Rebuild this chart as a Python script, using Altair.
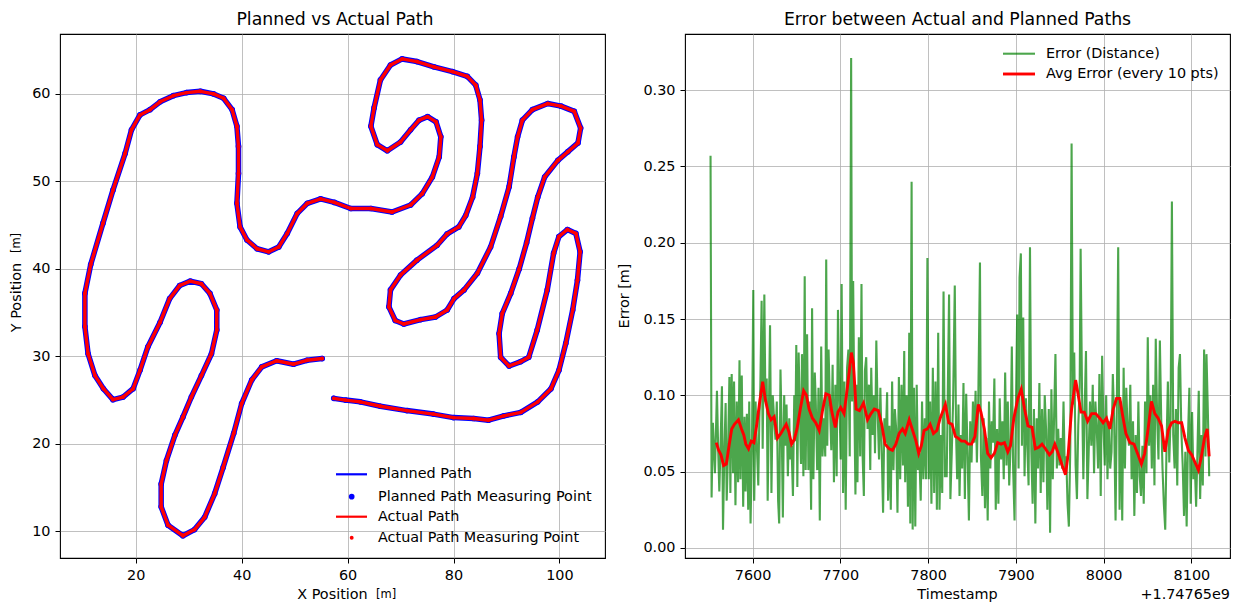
import altair as alt
import pandas as pd

FONT = "DejaVu Sans"

# ---------------- data ----------------
# planned path vertices (x [m], y [m]) in driving order
planned_x = [57.4, 59.6, 62.4, 66.2, 71.2, 76.2, 80.0, 83.8, 86.6, 89.5,
             92.7, 95.9, 98.4, 99.9, 101.2, 102.5, 103.4, 103.9, 103.1, 101.5,
             99.9, 98.9, 97.7, 95.8, 94.2, 92.7, 90.5, 88.9, 88.6, 89.2,
             90.8, 92.4, 93.8, 94.9, 95.9, 97.2, 99.7, 101.6, 103.5, 104.0,
             102.8, 100.3, 97.8, 94.9, 93.0, 92.1, 91.4, 90.5, 88.9, 87.0,
             84.5, 82.0, 80.1, 78.8, 76.6, 73.8, 70.6, 69.0, 67.8, 68.1,
             70.0, 73.1, 76.9, 78.8, 81.0, 82.3, 83.6, 84.5, 85.0, 85.3,
             85.0, 84.2, 82.6, 79.8, 76.3, 73.1, 70.3, 68.1, 66.2, 65.0,
             64.4, 65.6, 67.5, 70.0, 71.9, 73.5, 75.1, 76.7, 77.6, 77.3,
             76.0, 74.1, 71.9, 68.4, 64.4, 60.6, 57.5, 54.9, 52.4, 50.5,
             48.6, 47.0, 45.1, 42.9, 41.0, 39.7, 39.1, 39.4, 39.4, 39.1,
             38.2, 36.6, 34.7, 32.2, 29.6, 27.1, 24.6, 22.7, 20.8, 19.2,
             18.0, 15.7, 13.8, 11.5, 10.4, 10.4, 11.0, 12.3, 13.9, 15.7,
             17.6, 19.5, 20.8, 22.3, 24.6, 26.4, 28.3, 30.3, 32.4, 34.0,
             35.3, 35.3, 34.3, 32.4, 30.5, 28.9, 27.4, 25.8, 24.8, 24.8,
             26.1, 28.9, 31.1, 33.0, 34.9, 36.5, 38.5, 40.0, 41.9, 43.8,
             46.6, 49.8, 52.3, 55.2]
planned_y = [25.2, 25.0, 24.8, 24.3, 23.8, 23.4, 23.0, 22.9, 22.7, 23.2,
             23.6, 24.8, 26.3, 28.4, 31.5, 35.3, 38.7, 41.95, 44.05, 44.5,
             43.7, 41.8, 37.6, 33.0, 29.9, 29.4, 28.9, 29.9, 32.6, 34.9,
             37.2, 40.0, 43.0, 45.8, 48.2, 50.5, 52.4, 53.4, 54.4, 56.1,
             58.0, 58.6, 58.9, 58.2, 57.0, 55.1, 52.8, 49.4, 46.0, 42.5,
             39.5, 37.6, 36.6, 35.3, 34.5, 34.2, 33.7, 34.1, 35.65, 37.6,
             39.3, 41.0, 42.7, 44.0, 44.8, 46.1, 48.2, 50.9, 54.0, 57.0,
             59.3, 61.0, 62.0, 62.55, 63.1, 63.7, 64.0, 63.3, 61.6, 58.4,
             56.3, 54.2, 53.5, 54.5, 55.9, 57.0, 57.4, 56.8, 55.1, 52.8,
             50.5, 48.6, 47.3, 46.5, 46.9, 46.9, 47.6, 48.0, 47.5, 46.35,
             44.05, 42.5, 41.95, 42.3, 43.3, 44.8, 47.5, 50.9, 54.0, 56.3,
             58.2, 59.5, 60.0, 60.3, 60.15, 59.8, 59.1, 58.2, 57.6, 55.9,
             53.2, 49.0, 45.2, 40.5, 37.2, 33.4, 30.3, 27.8, 26.3, 25.05,
             25.35, 26.3, 28.4, 31.1, 33.9, 36.6, 38.1, 38.6, 38.3, 37.2,
             35.3, 33.0, 30.3, 27.8, 25.35, 23.05, 21.0, 18.1, 15.4, 12.8,
             10.7, 9.5, 10.2, 11.6, 14.3, 17.3, 21.2, 24.6, 27.3, 28.8,
             29.5, 29.1, 29.55, 29.75]
# the actual path lies on top of the planned one at this resolution
actual_x = list(planned_x)
actual_y = list(planned_y)

# error (distance) series: (timestamp - 1.74765e9, error [m])
error_points = [
    (7552.1, 0.257), (7553.3, 0.033), (7554.8, 0.082), (7557.1, 0.049), (7559.4, 0.103),
    (7560.9, 0.062), (7562.1, 0.037), (7563.6, 0.069), (7565.1, 0.106), (7566.3, 0.012),
    (7567.8, 0.062), (7569.3, 0.095), (7570.5, 0.031), (7572.0, 0.062), (7573.6, 0.112),
    (7574.7, 0.036), (7576.2, 0.114), (7577.8, 0.049), (7578.9, 0.109), (7580.5, 0.028),
    (7582.0, 0.096), (7583.5, 0.043), (7585.1, 0.123), (7586.2, 0.045), (7587.7, 0.113),
    (7589.3, 0.027), (7590.8, 0.086), (7592.0, 0.037), (7593.5, 0.088), (7595.0, 0.025),
    (7596.2, 0.096), (7597.7, 0.016), (7599.2, 0.062), (7600.8, 0.169), (7601.9, 0.031),
    (7603.4, 0.096), (7605.0, 0.065), (7606.5, 0.041), (7607.7, 0.085), (7608.8, 0.105),
    (7610.3, 0.162), (7611.5, 0.065), (7613.4, 0.166), (7614.6, 0.096), (7616.1, 0.111),
    (7617.2, 0.031), (7618.8, 0.098), (7619.9, 0.146), (7621.5, 0.036), (7623.0, 0.100),
    (7624.5, 0.085), (7626.1, 0.071), (7627.6, 0.096), (7629.1, 0.031), (7630.3, 0.016),
    (7631.8, 0.117), (7633.3, 0.074), (7634.5, 0.020), (7636.0, 0.100), (7637.2, 0.067),
    (7638.7, 0.094), (7640.2, 0.047), (7641.8, 0.085), (7642.9, 0.058), (7644.4, 0.067),
    (7646.0, 0.034), (7647.5, 0.100), (7648.7, 0.070), (7649.8, 0.133), (7651.0, 0.040),
    (7652.5, 0.128), (7653.6, 0.096), (7655.2, 0.055), (7656.3, 0.127), (7657.9, 0.047),
    (7659.4, 0.178), (7660.5, 0.051), (7662.1, 0.140), (7663.6, 0.051), (7665.1, 0.096),
    (7666.7, 0.025), (7667.8, 0.157), (7669.3, 0.045), (7670.9, 0.115), (7672.0, 0.096),
    (7673.6, 0.051), (7675.1, 0.105), (7676.6, 0.018), (7678.2, 0.132), (7679.7, 0.060),
    (7681.2, 0.085), (7682.8, 0.060), (7683.9, 0.189), (7685.1, 0.067), (7686.6, 0.130),
    (7688.1, 0.094), (7689.7, 0.064), (7691.2, 0.120), (7692.7, 0.043), (7694.3, 0.107),
    (7695.8, 0.047), (7697.3, 0.156), (7698.9, 0.096), (7700.4, 0.058), (7701.5, 0.173),
    (7703.1, 0.036), (7704.6, 0.109), (7706.1, 0.025), (7707.7, 0.118), (7709.2, 0.130),
    (7710.7, 0.060), (7712.3, 0.321), (7713.4, 0.096), (7714.6, 0.175), (7715.7, 0.107),
    (7717.2, 0.035), (7718.4, 0.107), (7719.5, 0.043), (7721.1, 0.138), (7722.6, 0.060),
    (7724.1, 0.173), (7725.3, 0.062), (7726.8, 0.034), (7728.0, 0.116), (7729.5, 0.125),
    (7731.0, 0.078), (7732.6, 0.107), (7734.1, 0.051), (7735.2, 0.118), (7736.8, 0.074),
    (7738.3, 0.100), (7739.5, 0.062), (7741.0, 0.136), (7742.5, 0.089), (7744.1, 0.058),
    (7745.6, 0.105), (7747.1, 0.065), (7748.7, 0.023), (7750.2, 0.085), (7751.7, 0.069),
    (7753.3, 0.102), (7754.4, 0.031), (7755.9, 0.080), (7757.5, 0.025), (7759.0, 0.109),
    (7760.5, 0.051), (7762.1, 0.091), (7763.6, 0.078), (7765.1, 0.023), (7766.7, 0.112),
    (7768.2, 0.045), (7769.7, 0.107), (7771.3, 0.054), (7772.8, 0.129), (7773.9, 0.043),
    (7775.5, 0.100), (7777.0, 0.027), (7778.5, 0.141), (7779.7, 0.016), (7781.2, 0.240),
    (7782.4, 0.012), (7783.9, 0.105), (7785.4, 0.014), (7787.0, 0.107), (7788.5, 0.051),
    (7790.0, 0.062), (7791.6, 0.031), (7793.1, 0.096), (7794.6, 0.045), (7796.2, 0.085),
    (7797.7, 0.045), (7799.2, 0.190), (7800.8, 0.045), (7802.3, 0.096), (7803.8, 0.029),
    (7805.4, 0.118), (7806.9, 0.036), (7808.4, 0.109), (7810.0, 0.025), (7811.5, 0.141),
    (7813.0, 0.025), (7814.6, 0.074), (7816.1, 0.036), (7817.6, 0.168), (7819.2, 0.047),
    (7821.2, 0.047), (7823.9, 0.166), (7825.4, 0.032), (7827.0, 0.063), (7828.5, 0.096),
    (7830.4, 0.172), (7831.9, 0.074), (7833.1, 0.045), (7834.6, 0.094), (7835.8, 0.034),
    (7837.3, 0.074), (7838.8, 0.052), (7840.3, 0.108), (7841.9, 0.032), (7843.4, 0.101),
    (7844.9, 0.063), (7846.5, 0.018), (7848.0, 0.083), (7849.5, 0.056), (7851.1, 0.096),
    (7852.6, 0.069), (7854.1, 0.103), (7855.6, 0.056), (7857.2, 0.098), (7859.1, 0.187),
    (7860.2, 0.060), (7861.8, 0.034), (7863.3, 0.085), (7864.8, 0.026), (7866.3, 0.072),
    (7867.9, 0.018), (7869.4, 0.096), (7870.9, 0.052), (7872.5, 0.083), (7874.0, 0.069),
    (7875.5, 0.111), (7877.1, 0.025), (7878.6, 0.078), (7880.1, 0.029), (7881.6, 0.098),
    (7883.2, 0.058), (7884.7, 0.083), (7886.2, 0.045), (7887.8, 0.115), (7889.3, 0.054),
    (7890.8, 0.096), (7892.4, 0.041), (7893.9, 0.065), (7895.4, 0.132), (7896.9, 0.052),
    (7898.5, 0.018), (7900.0, 0.089), (7901.5, 0.153), (7903.1, 0.052), (7904.2, 0.177),
    (7905.7, 0.193), (7906.9, 0.067), (7908.4, 0.151), (7909.9, 0.047), (7911.5, 0.098),
    (7913.0, 0.067), (7914.5, 0.041), (7916.1, 0.197), (7917.6, 0.063), (7919.1, 0.029),
    (7920.6, 0.091), (7922.2, 0.016), (7923.7, 0.085), (7925.2, 0.052), (7926.8, 0.108),
    (7928.3, 0.036), (7929.8, 0.091), (7931.4, 0.043), (7932.9, 0.100), (7934.4, 0.078),
    (7935.9, 0.025), (7937.5, 0.091), (7939.0, 0.010), (7940.5, 0.104), (7942.1, 0.045),
    (7943.6, 0.087), (7945.1, 0.127), (7946.7, 0.052), (7948.2, 0.078), (7949.7, 0.054),
    (7951.2, 0.072), (7952.8, 0.052), (7954.3, 0.096), (7955.8, 0.049), (7957.4, 0.060),
    (7958.9, 0.029), (7960.4, 0.014), (7962.0, 0.065), (7963.5, 0.265), (7965.0, 0.094),
    (7966.5, 0.128), (7968.1, 0.054), (7969.6, 0.032), (7971.1, 0.080), (7972.7, 0.105),
    (7973.8, 0.196), (7975.3, 0.107), (7976.9, 0.045), (7978.4, 0.091), (7979.9, 0.129),
    (7981.5, 0.032), (7983.0, 0.063), (7984.5, 0.096), (7986.0, 0.067), (7987.6, 0.107),
    (7989.1, 0.049), (7990.6, 0.096), (7992.2, 0.078), (7993.7, 0.052), (7995.2, 0.114),
    (7996.7, 0.034), (7998.3, 0.126), (7999.8, 0.080), (8001.3, 0.054), (8002.9, 0.100),
    (8004.4, 0.045), (8005.9, 0.083), (8007.5, 0.052), (8009.0, 0.063), (8010.5, 0.114),
    (8012.0, 0.083), (8013.6, 0.018), (8015.1, 0.096), (8016.6, 0.197), (8018.2, 0.025),
    (8019.7, 0.096), (8021.2, 0.018), (8022.8, 0.118), (8024.3, 0.052), (8025.8, 0.105),
    (8027.3, 0.078), (8028.9, 0.067), (8030.4, 0.107), (8031.9, 0.045), (8033.5, 0.083),
    (8035.0, 0.021), (8036.5, 0.074), (8038.0, 0.036), (8039.6, 0.096), (8041.1, 0.047),
    (8042.6, 0.034), (8044.2, 0.067), (8045.7, 0.029), (8047.2, 0.096), (8048.8, 0.049),
    (8050.3, 0.138), (8051.8, 0.067), (8053.3, 0.100), (8054.9, 0.052), (8056.4, 0.107),
    (8057.9, 0.041), (8059.4, 0.137), (8061.0, 0.085), (8062.5, 0.058), (8064.1, 0.136),
    (8065.6, 0.085), (8067.1, 0.052), (8068.6, 0.029), (8070.2, 0.012), (8071.7, 0.067),
    (8073.2, 0.109), (8074.8, 0.056), (8076.3, 0.085), (8077.8, 0.227), (8079.3, 0.074),
    (8080.9, 0.052), (8082.4, 0.091), (8083.9, 0.041), (8085.5, 0.118), (8087.0, 0.127),
    (8088.5, 0.078), (8090.1, 0.054), (8091.6, 0.021), (8093.1, 0.063), (8094.6, 0.014),
    (8096.2, 0.074), (8097.7, 0.105), (8099.2, 0.029), (8100.8, 0.089), (8102.3, 0.045),
    (8103.8, 0.056), (8105.4, 0.027), (8106.9, 0.063), (8108.4, 0.103), (8110.0, 0.032),
    (8111.5, 0.074), (8113.0, 0.041), (8114.5, 0.130), (8116.1, 0.060), (8117.2, 0.127),
    (8118.7, 0.091), (8120.3, 0.047),
]

# average error (every 10 pts)
avg_points = [
    (7558.6, 0.069), (7561.3, 0.064), (7564.0, 0.061), (7567.0, 0.054), (7570.1, 0.055),
    (7573.2, 0.067), (7576.2, 0.078), (7579.3, 0.081), (7583.9, 0.084), (7587.4, 0.078),
    (7590.0, 0.074), (7592.3, 0.068), (7595.4, 0.065), (7598.5, 0.070), (7601.5, 0.069),
    (7604.6, 0.080), (7607.7, 0.094), (7611.5, 0.109), (7614.6, 0.097), (7618.0, 0.088),
    (7621.1, 0.084), (7624.5, 0.086), (7628.4, 0.072), (7632.2, 0.075), (7635.2, 0.078),
    (7638.3, 0.081), (7641.4, 0.076), (7644.4, 0.068), (7647.5, 0.071), (7650.6, 0.078),
    (7654.4, 0.091), (7658.2, 0.103), (7661.3, 0.100), (7664.4, 0.091), (7668.2, 0.085),
    (7672.0, 0.082), (7675.9, 0.077), (7679.7, 0.090), (7683.5, 0.101), (7687.4, 0.100),
    (7690.4, 0.089), (7694.3, 0.079), (7697.3, 0.089), (7700.4, 0.092), (7704.2, 0.088),
    (7708.0, 0.105), (7712.6, 0.128), (7714.9, 0.121), (7718.0, 0.091), (7721.8, 0.090),
    (7726.4, 0.095), (7731.0, 0.084), (7734.9, 0.088), (7738.7, 0.091), (7743.3, 0.090),
    (7747.1, 0.081), (7751.0, 0.068), (7755.6, 0.065), (7759.4, 0.064), (7763.2, 0.068),
    (7767.0, 0.075), (7770.9, 0.078), (7773.9, 0.075), (7778.5, 0.084), (7782.4, 0.077),
    (7786.2, 0.070), (7789.3, 0.062), (7792.3, 0.067), (7795.4, 0.077), (7799.2, 0.078),
    (7802.3, 0.081), (7806.1, 0.075), (7810.0, 0.077), (7813.8, 0.085), (7819.7, 0.094),
    (7823.5, 0.082), (7827.3, 0.081), (7831.2, 0.073), (7834.2, 0.072), (7838.0, 0.070),
    (7841.9, 0.070), (7845.7, 0.068), (7849.5, 0.068), (7853.3, 0.073), (7857.2, 0.094),
    (7860.2, 0.089), (7864.1, 0.078), (7867.9, 0.062), (7871.7, 0.059), (7875.5, 0.062),
    (7879.3, 0.069), (7883.2, 0.068), (7887.0, 0.069), (7890.8, 0.063), (7893.9, 0.067),
    (7897.7, 0.085), (7902.3, 0.098), (7906.1, 0.104), (7909.9, 0.091), (7913.8, 0.080),
    (7918.4, 0.079), (7922.2, 0.065), (7926.0, 0.066), (7929.8, 0.068), (7933.7, 0.065),
    (7938.2, 0.061), (7941.3, 0.063), (7944.4, 0.068), (7948.2, 0.062), (7952.8, 0.054),
    (7956.6, 0.048), (7959.7, 0.062), (7963.5, 0.091), (7968.1, 0.110), (7971.1, 0.100),
    (7974.2, 0.089), (7978.0, 0.089), (7981.8, 0.083), (7986.4, 0.088), (7991.0, 0.088),
    (7995.6, 0.085), (7999.4, 0.082), (8003.3, 0.085), (8007.1, 0.078), (8010.9, 0.091),
    (8014.7, 0.098), (8018.5, 0.098), (8021.6, 0.087), (8025.4, 0.075), (8030.0, 0.069),
    (8034.6, 0.068), (8039.2, 0.061), (8043.0, 0.055), (8046.8, 0.062), (8050.7, 0.078),
    (8054.5, 0.096), (8058.3, 0.088), (8062.1, 0.085), (8066.0, 0.080), (8069.8, 0.063),
    (8073.6, 0.077), (8077.4, 0.082), (8081.3, 0.083), (8085.1, 0.082), (8088.9, 0.082),
    (8092.7, 0.072), (8096.6, 0.064), (8100.4, 0.061), (8104.2, 0.056), (8108.0, 0.051),
    (8111.1, 0.059), (8114.9, 0.072), (8118.0, 0.078), (8120.3, 0.060),
]

x_ticks_left = [20, 40, 60, 80, 100]
y_ticks_left = [10, 20, 30, 40, 50, 60]
x_ticks_right = [7600, 7700, 7800, 7900, 8000, 8100]
y_ticks_right = [0.0, 0.05, 0.10, 0.15, 0.20, 0.25, 0.30]
offset_label = "+1.74765e9"

# ---------------- layout / style ----------------
W, H = 545, 524
TICK_FS = 14.4
TITLE_FS = 17.3

planned_df = pd.DataFrame({"x": planned_x, "y": planned_y, "i": range(len(planned_x))})
actual_df = pd.DataFrame({"x": actual_x, "y": actual_y, "i": range(len(actual_x))})
err_df = pd.DataFrame(error_points, columns=["t", "e"])
avg_df = pd.DataFrame(avg_points, columns=["t", "e"])
one = pd.DataFrame({"k": [0]})

xs_l = alt.Scale(domain=[5.7, 108.6], nice=False, zero=False)
ys_l = alt.Scale(domain=[6.95, 66.85], nice=False, zero=False)
xs_r = alt.Scale(domain=[7523, 8144], nice=False, zero=False)
ys_r = alt.Scale(domain=[-0.0066, 0.3368], nice=False, zero=False)

ax_xl = alt.Axis(values=x_ticks_left, title=None, labelFlush=False, labelOverlap=False)
ax_yl = alt.Axis(values=y_ticks_left, title=None, labelFlush=False, labelOverlap=False)
ax_xr = alt.Axis(values=x_ticks_right, title=None, format="d", labelFlush=False, labelOverlap=False)
ax_yr = alt.Axis(values=y_ticks_right, title=None, format=".2f", labelFlush=False, labelOverlap=False)


def txt(s, x, y, size=TICK_FS, align="center", angle=0):
    return alt.Chart(one).mark_text(
        text=s, font=FONT, fontSize=size, color="black", align=align,
        baseline="middle", angle=angle
    ).encode(x=alt.value(x), y=alt.value(y))


def hline(x1, x2, y, color, sw, op=1.0):
    return alt.Chart(one).mark_rule(color=color, strokeWidth=sw, opacity=op).encode(
        x=alt.value(x1), x2=alt.value(x2), y=alt.value(y))


def dot(x, y, color, size):
    return alt.Chart(one).mark_circle(color=color, size=size, opacity=1).encode(
        x=alt.value(x), y=alt.value(y))


enc_l = dict(x=alt.X("x:Q", scale=xs_l, axis=ax_xl), y=alt.Y("y:Q", scale=ys_l, axis=ax_yl), order="i:Q")

p_line = alt.Chart(planned_df).mark_line(color="blue", strokeWidth=5.5, strokeCap="round", strokeJoin="round").encode(**enc_l)
p_pts = alt.Chart(planned_df).mark_circle(color="blue", size=32, opacity=1).encode(**enc_l)
a_line = alt.Chart(actual_df).mark_line(color="red", strokeWidth=3.4, strokeCap="round", strokeJoin="round").encode(**enc_l)
a_pts = alt.Chart(actual_df).mark_circle(color="red", size=15, opacity=1).encode(**enc_l)

leg_l = [
    hline(276, 307, 440.3, "blue", 2.2), txt("Planned Path", 318, 440.3, align="left"),
    dot(291.7, 462.7, "blue", 32), txt("Planned Path Measuring Point", 318, 462.7, align="left"),
    hline(276, 307, 482.7, "red", 2.2), txt("Actual Path", 318, 482.7, align="left"),
    dot(291.7, 503.7, "red", 15), txt("Actual Path Measuring Point", 318, 503.7, align="left"),
]

left = alt.layer(
    p_line, p_pts, a_line, a_pts, *leg_l,
    txt("Planned vs Actual Path", 275, -14, size=TITLE_FS),
    txt("X Position", 272.5, 561),
    txt("[m]", 316, 561, size=11.5, align="left"),
    txt("Y Position", -43.3, 263.5, angle=270),
    txt("[m]", -43.3, 209, size=11.5, angle=270),
).properties(width=W, height=H)

enc_r = dict(x=alt.X("t:Q", scale=xs_r, axis=ax_xr), y=alt.Y("e:Q", scale=ys_r, axis=ax_yr))
err_line = alt.Chart(err_df).mark_line(color="green", opacity=0.7, strokeWidth=2.1).encode(**enc_r)
avg_line = alt.Chart(avg_df).mark_line(color="red", strokeWidth=2.9).encode(**enc_r)

right = alt.layer(
    err_line, avg_line,
    hline(318, 350, 19.7, "green", 2.1, 0.7), txt("Error (Distance)", 361, 19.7, align="left"),
    hline(318, 350, 40, "red", 2.9), txt("Avg Error (every 10 pts)", 361, 40, align="left"),
    txt("Error between Actual and Planned Paths", 272.5, -14, size=TITLE_FS),
    txt("Timestamp", 272.5, 561),
    txt(offset_label, 545, 561, align="right"),
    txt("Error [m]", -60, 262, angle=270),
).properties(width=W, height=H)

chart = alt.hconcat(left, right, spacing=10).properties(
    padding={"left": 0, "top": 2, "right": 2, "bottom": 2}
).configure(font=FONT).configure_view(
    stroke="black", strokeWidth=1.1
).configure_axis(
    domain=False, grid=True, gridColor="#b0b0b0", gridWidth=0.8,
    tickColor="black", tickSize=5, tickWidth=1,
    labelFont=FONT, labelFontSize=TICK_FS, labelColor="black", labelPadding=5,
)

chart.save("out.html", embed_options={"renderer": "svg", "actions": False})
